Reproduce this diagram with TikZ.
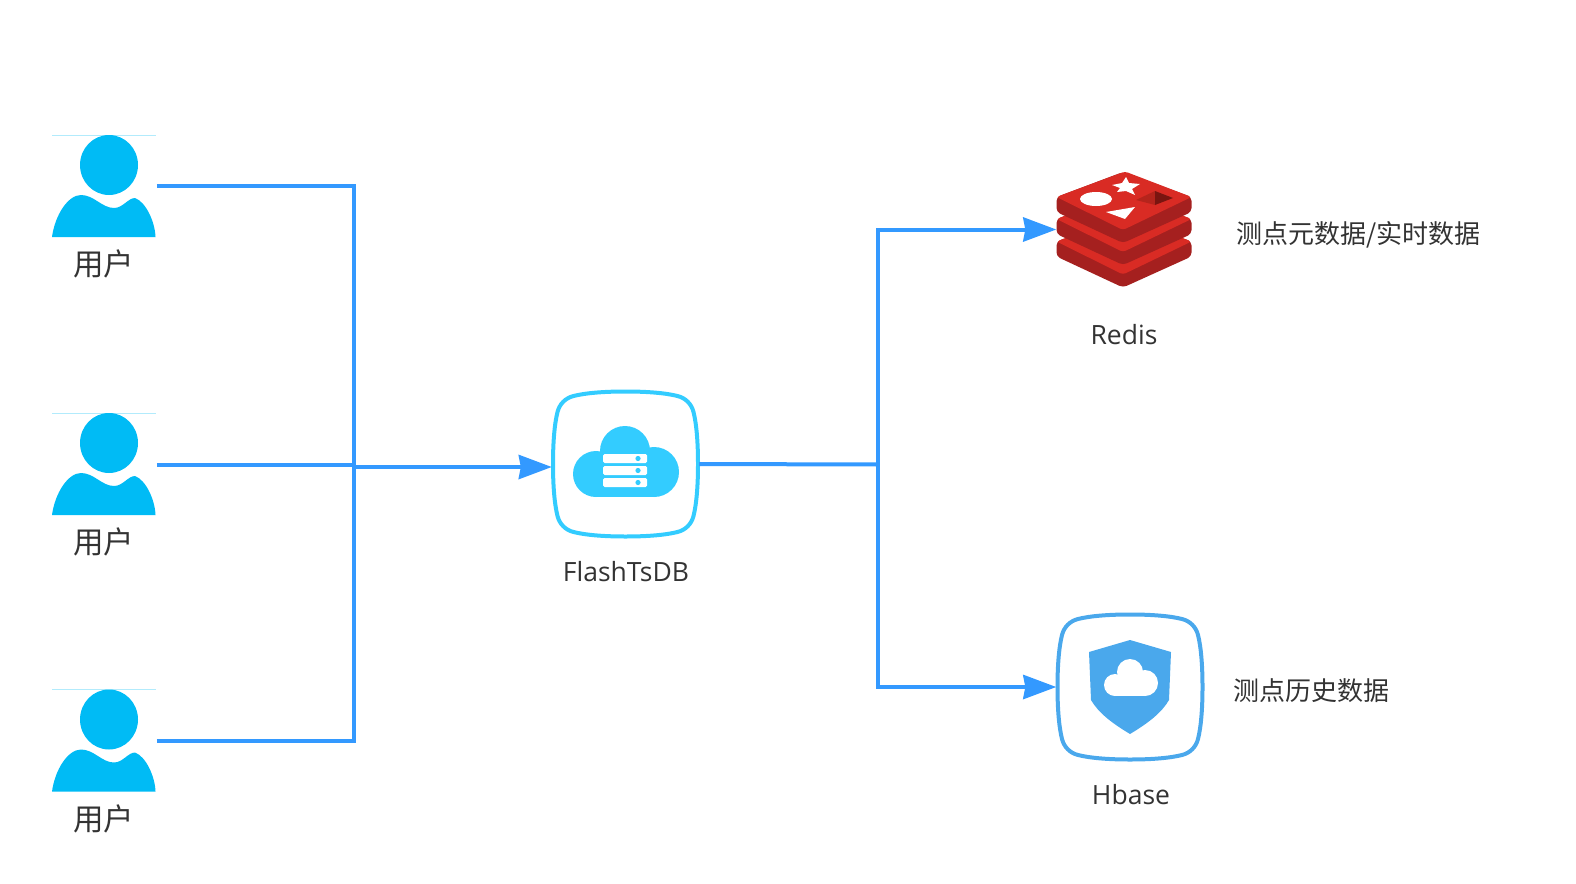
\documentclass[tikz,border=0pt]{standalone}
\usepackage{fontspec}
\setmainfont{Open Sans}
\newfontfamily\cjkfont{Noto Sans CJK SC}
\usetikzlibrary{arrows.meta}
\definecolor{connblue}{HTML}{3399FF}
\definecolor{userblue}{HTML}{00BBF5}
\definecolor{flashblue}{HTML}{33CCFF}
\definecolor{hbaseblue}{HTML}{4AA8EC}
\definecolor{redisred}{HTML}{D92B24}
\definecolor{redisdark}{HTML}{A5201F}
\definecolor{redissq}{HTML}{B5241C}
\definecolor{redistri}{HTML}{7A1510}
\definecolor{txt}{HTML}{333333}
\tikzset{
  conn/.style={draw=connblue,line width=4pt},
  connarrow/.style={conn,-{Stealth[length=33pt,width=24pt,inset=2pt]}},
  anchorbox/.style={inner sep=0pt,minimum width=#1,minimum height=#1},
  cjklabel/.style={text=txt,inner sep=0pt,font=\cjkfont\fontsize{26}{30}\selectfont},
  userlabel/.style={text=txt,inner sep=0pt,font=\cjkfont\fontsize{30.5}{32}\selectfont},
  latlabel/.style={text=txt,inner sep=0pt,font=\fontsize{26.5}{30}\selectfont},
}
\newcommand{\squircle}{(0,-72.5) .. controls (22,-72.5) and (40,-71) .. (52,-68)
  .. controls (60,-66) and (66,-60) .. (68,-52) .. controls (71,-40) and (72.5,-22) .. (72.5,0)
  .. controls (72.5,22) and (71,40) .. (68,52) .. controls (66,60) and (60,66) .. (52,68)
  .. controls (40,71) and (22,72.5) .. (0,72.5) .. controls (-22,72.5) and (-40,71) .. (-52,68)
  .. controls (-60,66) and (-66,60) .. (-68,52) .. controls (-71,40) and (-72.5,22) .. (-72.5,0)
  .. controls (-72.5,-22) and (-71,-40) .. (-68,-52) .. controls (-66,-60) and (-60,-66) .. (-52,-68)
  .. controls (-40,-71) and (-22,-72.5) .. (0,-72.5) -- cycle}
\newcommand{\personicon}[1]{%
  \begin{scope}[yshift=-#1pt]
    \draw[color=userblue!30,line width=0.8pt] (52,135) -- (156,135);
    \fill[userblue] (109,165) ellipse[x radius=29,y radius=30];
    \fill[userblue] (52,237) .. controls (55,215) and (68,195) .. (81,195)
      .. controls (94,195) and (102,208) .. (114,208)
      .. controls (123,208) and (128,198) .. (135,198)
      .. controls (146,202) and (155,222) .. (155.5,237) -- cycle;
  \end{scope}}
\newcommand{\redislayer}[1]{%
  \begin{scope}[yshift=-#1pt]
    \fill[redisdark,rounded corners=4pt] (1056.5,197) -- (1056.5,212) -- (1123,243) -- (1191.5,212) -- (1191.5,197) -- (1123,172) -- cycle;
    \fill[redisred,rounded corners=3pt] (1056.5,197) -- (1125,171.5) -- (1191.5,197) -- (1123,230) -- cycle;
  \end{scope}}
\begin{document}
\begin{tikzpicture}[x=1pt,y=-1pt]
\useasboundingbox (0,0) rectangle (1576,883);
% users
\personicon{0}\personicon{278}\personicon{554.5}
\node[anchorbox=105.5pt] (u1) at (104,186) {};
\node[anchorbox=105.5pt] (u2) at (104,464.5) {};
\node[anchorbox=105.5pt] (u3) at (104,740.5) {};
\node[userlabel] (l1) at (103.5,264) {用户};
\node[userlabel] (l2) at (103.5,542) {用户};
\node[userlabel] (l3) at (103.5,818.5) {用户};
% FlashTsDB
\begin{scope}[shift={(625.5,464)}]
  \draw[flashblue,line width=4pt] \squircle;
\end{scope}
\node[anchorbox=147pt] (flash) at (625.5,464) {};
\fill[flashblue] (596,474) circle[radius=23];
\fill[flashblue] (625,451) circle[radius=25];
\fill[flashblue] (654,472) circle[radius=25];
\fill[flashblue] (596,452.5) rectangle (654,497);
\foreach \y in {454,466,478}{
  \fill[white,rounded corners=1.5pt] (603,\y) rectangle (647,\y+9);
  \fill[flashblue] (638,\y+4.5) circle[radius=2.6];
}
\node[latlabel] (lflash) at (626,572) {FlashTsDB};
% Redis
\redislayer{44.5}\redislayer{22}\redislayer{0}
\node[anchorbox=135pt] (redis) at (1124,229.5) {};
\fill[white] (1096,199) ellipse[x radius=16,y radius=7];
\fill[white] (1126,177) -- (1129,183) -- (1140,184) -- (1132,189) -- (1135,195) -- (1126,191)
  -- (1117,192) -- (1120,188) -- (1112,185) -- (1122,183) -- cycle;
\fill[white] (1106,212) -- (1135,207) -- (1125,219) -- cycle;
\fill[redissq] (1136,200) -- (1155,191) -- (1155,205) -- cycle;
\fill[redistri] (1155,191) -- (1173,198) -- (1155,205) -- cycle;
\node[latlabel] (lredis) at (1124,334.5) {Redis};
\node[cjklabel,anchor=west] (lredisnote) at (1236,234.5) {测点元数据/实时数据};
% Hbase
\begin{scope}[shift={(1130,687)}]
  \draw[hbaseblue,line width=4pt] \squircle;
\end{scope}
\node[anchorbox=147pt] (hbase) at (1130,687) {};
\fill[hbaseblue] (1130,640) -- (1171,652) -- (1169,700) .. controls (1162,712) and (1150,722) .. (1130,734)
  .. controls (1110,722) and (1098,712) .. (1091,700) -- (1089,652) -- cycle;
\fill[white] (1115,685) circle[radius=11];
\fill[white] (1130,672) circle[radius=13];
\fill[white] (1145,683) circle[radius=13];
\fill[white] (1115,680) rectangle (1145,696);
\node[latlabel] (lhbase) at (1131,795) {Hbase};
\node[cjklabel,anchor=west] (lhbasenote) at (1233,690.5) {测点历史数据};
% connectors
\coordinate (jl) at (354,467);
\coordinate (jr) at (878,464.5);
\draw[conn] (u1.east) -| (jl);
\draw[conn] (u3.east) -| (jl);
\draw[conn] (u2.east) -- (u2.east -| jl);
\draw[connarrow] (jl) -- (flash.west |- jl);
\draw[conn] (flash.east) -- (jr);
\draw[connarrow] (jr) |- (redis.west);
\draw[connarrow] (jr) |- (hbase.west);
\end{tikzpicture}
\end{document}
